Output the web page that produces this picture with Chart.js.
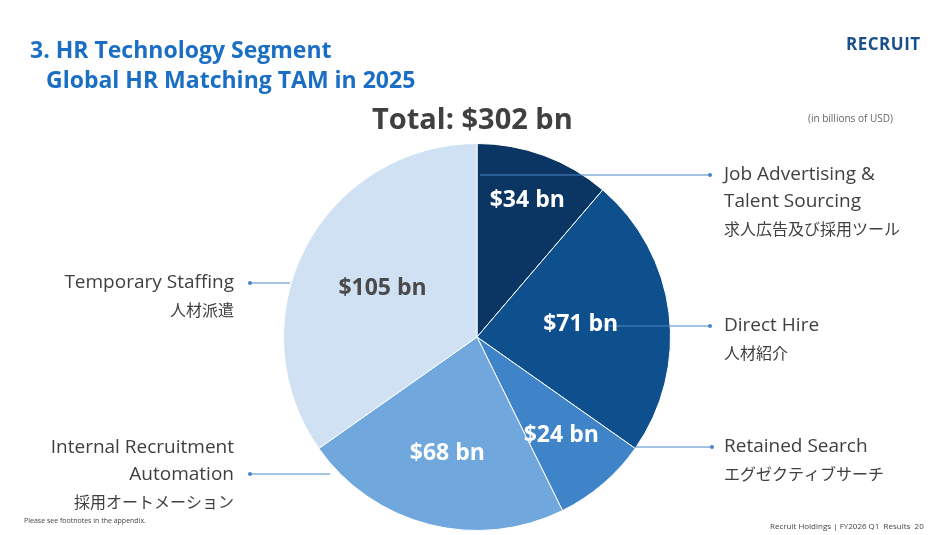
<!DOCTYPE html>
<html>
<head>
<meta charset="utf-8">
<script src="https://cdn.jsdelivr.net/npm/chart.js@4/dist/chart.umd.min.js"></script>
<style>
  body { margin: 0; background: #fff; font-family: "Open Sans", sans-serif; }
  #wrap { position: relative; width: 951px; height: 535px; overflow: hidden; }
  canvas { position: absolute; left: 0; top: 0; }
  .t { position: absolute; white-space: nowrap; }
  .title { color: #1a6fc4; font-weight: bold; font-size: 23px; line-height: 30px; }
</style>
</head>
<body>
<div id="wrap">
  <canvas id="myChart" width="951" height="535"></canvas>
  <div class="t title" style="left:30px;top:34px;">3. HR Technology Segment</div>
  <div class="t title" style="left:46px;top:64px;">Global HR Matching TAM in 2025</div>
  <div class="t" style="left:372px;top:98px;font-size:29px;font-weight:bold;color:#404040;">Total: $302 bn</div>
  <div class="t" style="left:808px;top:111px;font-size:10px;color:#666;">(in billions of USD)</div>
  <div class="t" style="left:846px;top:32px;font-size:17px;font-weight:bold;color:#1a4f8a;letter-spacing:0.5px;">RECRUIT</div>
  <div class="t" style="left:24px;top:516px;font-size:7px;color:#444;">Please see footnotes in the appendix.</div>
  <div class="t" style="left:770px;top:520px;font-size:8px;color:#444;">Recruit Holdings | FY2026 Q1 &nbsp;Results &nbsp;20</div>
</div>
<script>
const categorias = ["Job Advertising & Talent Sourcing", "Direct Hire", "Retained Search", "Internal Recruitment Automation", "Temporary Staffing"];
const valores = [34, 71, 24, 68, 105];
const etiquetas = ["$34 bn", "$71 bn", "$24 bn", "$68 bn", "$105 bn"];
const colores = ["#0b3562", "#0e4f8e", "#3f84c8", "#70a7dd", "#cfe1f3"];
const colorTexto = ["#fff", "#fff", "#fff", "#fff", "#4a4a4a"];
// que tan lejos del centro va cada etiqueta (fraccion del radio)
const distEtiqueta = [0.75, 0.54, 0.67, 0.62, 0.55];

// textos de la leyenda: [lineas, x, y, alineacion, x del punto, y del punto, x final de la linea]
const leyendas = [
  [["Job Advertising &", "Talent Sourcing", "求人広告及び採用ツール"], 724, 175, "left", 710, 175, 480],
  [["Direct Hire", "人材紹介"], 724, 326, "left", 710, 326, 600],
  [["Retained Search", "エグゼクティブサーチ"], 724, 447, "left", 712, 447, 634],
  [["Internal Recruitment", "Automation", "採用オートメーション"], 234, 448, "right", 250, 474, 330],
  [["Temporary Staffing", "人材派遣"], 234, 283, "right", 250, 283, 290]
];

const textos = {
  id: "textos",
  afterDatasetsDraw(chart) {
    const ctx = chart.ctx;
    ctx.save();
    for (const l of leyendas) {
      ctx.strokeStyle = "#4a86c5";
      ctx.lineWidth = 1;
      ctx.beginPath();
      ctx.moveTo(l[4], l[5]);
      ctx.lineTo(l[6], l[5]);
      ctx.stroke();
      ctx.fillStyle = "#4a86c5";
      ctx.beginPath();
      ctx.arc(l[4], l[5], 2, 0, Math.PI * 2);
      ctx.fill();
    }
    const meta = chart.getDatasetMeta(0);
    meta.data.forEach((arc, i) => {
      const a = (arc.startAngle + arc.endAngle) / 2;
      const r = arc.outerRadius * distEtiqueta[i];
      ctx.font = "bold 23px 'Open Sans'";
      ctx.fillStyle = colorTexto[i];
      ctx.textAlign = "center";
      ctx.textBaseline = "middle";
      ctx.fillText(etiquetas[i], arc.x + Math.cos(a) * r, arc.y + Math.sin(a) * r);
    });
    for (const l of leyendas) {
      ctx.textAlign = l[3];
      ctx.textBaseline = "middle";
      l[0].forEach((linea, k) => {
        const cjk = /[^\x00-\x7f]/.test(linea);
        ctx.font = cjk ? "16px 'Noto Sans CJK JP'" : "19px 'Open Sans'";
        ctx.fillStyle = "#404040";
        ctx.fillText(linea, l[1], l[2] + k * 27);
      });
    }
    ctx.restore();
  }
};

new Chart(document.getElementById("myChart").getContext("2d"), {
  type: "pie",
  data: {
    labels: categorias,
    datasets: [{ data: valores, backgroundColor: colores, borderColor: "#fff", borderWidth: 1 }]
  },
  options: {
    responsive: false,
    animation: false,
    layout: { padding: { left: 283, right: 280, top: 143, bottom: 4 } },
    plugins: { legend: { display: false }, tooltip: { enabled: false } }
  },
  plugins: [textos]
});
</script>
</body>
</html>
